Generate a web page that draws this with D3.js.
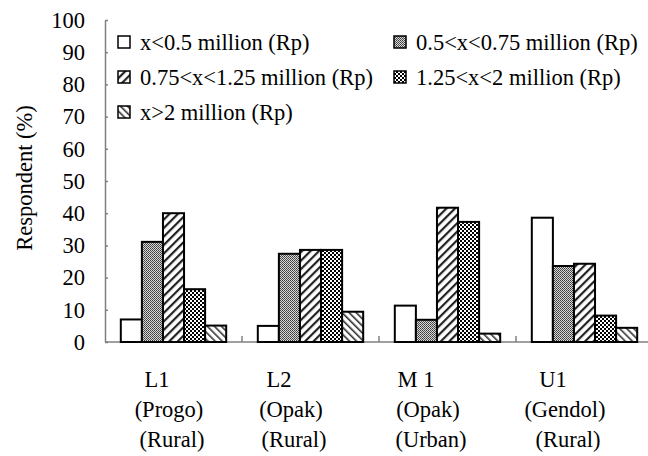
<!DOCTYPE html>
<html>
<head>
<meta charset="utf-8">
<script src="https://cdn.jsdelivr.net/npm/d3@7"></script>
</head>
<body style="margin:0">
<svg width="648" height="456" font-family="Liberation Serif"></svg>
<script>
(function(){
  'use strict';

  var WIDTH = 648;
  var HEIGHT = 456;
  var FONT = 'Liberation Serif';
  var FS = 22.5;

  var padding = { top: 20, bottom: 114, left: 105, right: -5 };

  var sites = ['L1', 'L2', 'M1', 'U1'];
  var siteLines = [
    ['L1', '(Progo)', '(Rural)'],
    ['L2', '(Opak)', '(Rural)'],
    ['M 1', '(Opak)', '(Urban)'],
    ['U1', '(Gendol)', '(Rural)']
  ];
  var incomeGroups = [
    'x<0.5 million (Rp)',
    '0.5<x<0.75 million (Rp)',
    '0.75<x<1.25 million (Rp)',
    '1.25<x<2 million (Rp)',
    'x>2 million (Rp)'
  ];
  var below05   = [7.0, 5.0, 11.3, 38.6];
  var from05    = [31.1, 27.4, 6.9, 23.6];
  var from075   = [40.0, 28.6, 41.7, 24.3];
  var from125   = [16.4, 28.6, 37.3, 8.2];
  var above2    = [5.1, 9.4, 2.6, 4.4];
  var yTicks = [0, 10, 20, 30, 40, 50, 60, 70, 80, 90, 100];

  var series = [below05, from05, from075, from125, above2];
  var patternIds = ['p-white', 'p-gray', 'p-fwd', 'p-check', 'p-back'];

  var svg = d3.select('svg');
  var defs = svg.append('defs');

  // pattern fills
  defs.append('pattern').attr('id', 'p-white')
    .attr('patternUnits', 'userSpaceOnUse').attr('width', 4).attr('height', 4)
    .append('rect').attr('width', 4).attr('height', 4).attr('fill', '#fff');

  var g2 = defs.append('pattern').attr('id', 'p-gray')
    .attr('patternUnits', 'userSpaceOnUse').attr('width', 2).attr('height', 2);
  g2.append('rect').attr('width', 2).attr('height', 2).attr('fill', '#d8d8d8');
  g2.append('rect').attr('width', 1).attr('height', 1).attr('fill', '#3a3a3a');
  g2.append('rect').attr('x', 1).attr('y', 1).attr('width', 1).attr('height', 1).attr('fill', '#555');

  var pf = defs.append('pattern').attr('id', 'p-fwd')
    .attr('patternUnits', 'userSpaceOnUse').attr('width', 6).attr('height', 6)
    .attr('patternTransform', 'rotate(45)');
  pf.append('rect').attr('width', 6).attr('height', 6).attr('fill', '#fff');
  pf.append('rect').attr('width', 2.2).attr('height', 6).attr('fill', '#222');

  var pc = defs.append('pattern').attr('id', 'p-check')
    .attr('patternUnits', 'userSpaceOnUse').attr('width', 4).attr('height', 4);
  pc.append('rect').attr('width', 4).attr('height', 4).attr('fill', '#fff');
  pc.append('rect').attr('width', 2).attr('height', 2).attr('fill', '#000');
  pc.append('rect').attr('x', 2).attr('y', 2).attr('width', 2).attr('height', 2).attr('fill', '#000');

  var pb = defs.append('pattern').attr('id', 'p-back')
    .attr('patternUnits', 'userSpaceOnUse').attr('width', 5).attr('height', 5)
    .attr('patternTransform', 'rotate(-45)');
  pb.append('rect').attr('width', 5).attr('height', 5).attr('fill', '#fff');
  pb.append('rect').attr('width', 1.6).attr('height', 5).attr('fill', '#333');

  var xScale = d3.scaleBand()
    .domain(sites)
    .range([padding.left, WIDTH - padding.right])
    .paddingInner(0)
    .paddingOuter(0);

  var xInner = d3.scaleBand()
    .domain(d3.range(series.length))
    .range([0, xScale.bandwidth()])
    .paddingOuter(0.75)
    .paddingInner(0);

  var yScale = d3.scaleLinear()
    .domain([0, 100])
    .range([HEIGHT - padding.bottom, padding.top]);

  var rows = [];
  sites.forEach(function(s, i) {
    series.forEach(function(arr, k) {
      rows.push({ site: s, k: k, value: arr[i] });
    });
  });

  // axes
  var yAxis = svg.append('g')
    .attr('transform', 'translate(' + padding.left + ',0)')
    .call(d3.axisLeft(yScale).tickValues(yTicks).tickSizeInner(-3).tickSizeOuter(0).tickPadding(20));
  yAxis.attr('font-family', FONT).attr('font-size', FS);
  yAxis.select('.domain').attr('stroke', '#808080').attr('stroke-width', 1.5);
  yAxis.selectAll('.tick line').attr('stroke', '#808080').attr('stroke-width', 1.5);

  var xAxis = svg.append('g')
    .attr('transform', 'translate(0,' + yScale(0) + ')');
  xAxis.append('line')
    .attr('x1', padding.left).attr('x2', WIDTH)
    .attr('stroke', '#808080').attr('stroke-width', 1.5);
  xAxis.selectAll('line.sep')
    .data(sites.slice(1))
    .enter().append('line')
    .attr('class', 'sep')
    .attr('x1', function(d) { return xScale(d); })
    .attr('x2', function(d) { return xScale(d); })
    .attr('y1', 0).attr('y2', -6)
    .attr('stroke', '#808080').attr('stroke-width', 1.5);

  // bars
  svg.append('g').selectAll('rect')
    .data(rows)
    .enter().append('rect')
    .attr('x', function(d) { return xScale(d.site) + xInner(d.k); })
    .attr('y', function(d) { return yScale(d.value); })
    .attr('width', xInner.bandwidth())
    .attr('height', function(d) { return yScale(0) - yScale(d.value); })
    .attr('fill', function(d) { return 'url(#' + patternIds[d.k] + ')'; })
    .attr('stroke', '#000')
    .attr('stroke-width', 2);

  // category labels
  var lineShift = [37, 49, 52];
  var siteNudge = [15, 0, 0, 0];
  var lineY = [387, 417, 447];
  sites.forEach(function(s, i) {
    siteLines[i].forEach(function(t, j) {
      svg.append('text')
        .attr('x', xScale(s) + lineShift[j] + siteNudge[i])
        .attr('y', lineY[j])
        .attr('text-anchor', 'middle')
        .attr('font-family', FONT)
        .attr('font-size', FS)
        .text(t);
    });
  });

  // y title
  svg.append('text')
    .attr('transform', 'translate(32,' + 178 + ') rotate(-90)')
    .attr('text-anchor', 'middle')
    .attr('font-family', FONT)
    .attr('font-size', FS)
    .text('Respondent (%)');

  // legend
  var legendPos = [[118, 42], [394, 42], [118, 77], [394, 77], [118, 112]];
  var leg = svg.append('g').selectAll('g')
    .data(incomeGroups)
    .enter().append('g')
    .attr('transform', function(d, i) { return 'translate(' + legendPos[i] + ')'; });
  leg.append('rect')
    .attr('x', 0).attr('y', -6).attr('width', 12).attr('height', 12)
    .attr('fill', function(d, i) { return 'url(#' + patternIds[i] + ')'; })
    .attr('stroke', '#000').attr('stroke-width', 1.5);
  leg.append('text')
    .attr('x', 22).attr('y', 0).attr('dy', '0.35em')
    .attr('font-family', FONT)
    .attr('font-size', FS)
    .text(function(d) { return d; });
})();
</script>
</body>
</html>
